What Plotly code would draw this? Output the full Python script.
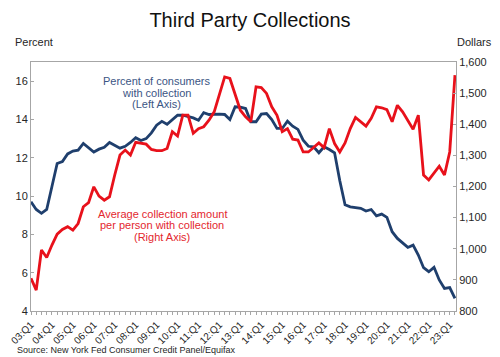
import plotly.graph_objects as go

years = list(range(3, 24))
quarters = [f"{y:02d}:Q{q}" for y in years for q in range(1, 5)][:82]
tick_labels = [q if q.endswith("Q1") else "" for q in quarters]

pct_consumers = [
    9.7, 9.3, 9.1, 9.3, 10.5, 11.7, 11.8, 12.2, 12.35, 12.4,
    12.75, 12.5, 12.3, 12.45, 12.55, 12.8, 12.65, 12.5, 12.6, 12.8,
    13.05, 12.9, 13.0, 13.3, 13.7, 13.9, 13.75, 14.0, 14.22, 14.22,
    14.17, 14.08, 13.96, 14.36, 14.26, 14.28, 14.28, 14.26, 14.0, 14.66,
    14.64, 14.57, 13.88, 13.88, 14.28, 14.31, 14.0, 13.53, 13.53, 13.91,
    13.65, 13.48, 12.92, 12.6, 12.57, 12.26, 12.57, 12.43, 12.26, 10.8,
    9.55, 9.44, 9.39, 9.36, 9.22, 9.3, 8.97, 9.06, 8.89, 8.14,
    7.79, 7.56, 7.32, 7.44, 6.92, 6.26, 6.05, 6.28, 5.62, 5.18,
    5.22, 4.66,
]

avg_amount = [
    905, 867, 996, 972, 1012, 1047, 1062, 1071, 1060, 1081,
    1135, 1148, 1199, 1169, 1156, 1167, 1237, 1301, 1317, 1301,
    1342, 1340, 1336, 1319, 1315, 1315, 1322, 1376, 1362, 1429,
    1429, 1371, 1386, 1392, 1413, 1440, 1499, 1552, 1547, 1499,
    1445, 1424, 1408, 1520, 1518, 1499, 1456, 1429, 1376, 1386,
    1352, 1349, 1311, 1311, 1325, 1340, 1325, 1386, 1338, 1311,
    1340, 1386, 1422, 1408, 1394, 1419, 1456, 1453, 1447, 1408,
    1461, 1440, 1413, 1384, 1429, 1237, 1221, 1242, 1265, 1237,
    1311, 1558,
]

left_ticks = [4, 6, 8, 10, 12, 14, 16]
right_ticks = [800, 900, 1000, 1100, 1200, 1300, 1400, 1500, 1600]
right_tick_text = [f"{v:,}" for v in right_ticks]

BLUE = "#1f3f6d"
RED = "#e8111b"
GRAY = "#a6a6a6"
TXT = "#262626"

fig = go.Figure()
fig.add_trace(go.Scatter(x=quarters, y=pct_consumers, mode="lines",
                         line=dict(color=BLUE, width=2.8), yaxis="y",
                         showlegend=False))
fig.add_trace(go.Scatter(x=quarters, y=avg_amount, mode="lines",
                         line=dict(color=RED, width=2.8), yaxis="y2",
                         showlegend=False))

font_family = "Liberation Sans, Arial, sans-serif"

fig.update_layout(
    width=500, height=357,
    margin=dict(l=31, r=44, t=62, b=46, autoexpand=False),
    paper_bgcolor="white", plot_bgcolor="white",
    font=dict(family=font_family, color=TXT, size=11),
    title=dict(text="Third Party Collections", x=0.5, xanchor="center",
               y=0.945, yanchor="middle",
               font=dict(size=20, color="#111111", family=font_family)),
    xaxis=dict(type="category", categoryorder="array", categoryarray=quarters,
               range=[0, 81.2], tickmode="array", tickvals=quarters,
               ticktext=tick_labels, tickangle=-45, ticks="outside",
               ticklen=3, tickcolor=GRAY, tickfont=dict(size=10, color=TXT),
               showline=True, linecolor=GRAY, linewidth=1, mirror=True,
               showgrid=False, zeroline=False, automargin=False),
    yaxis=dict(range=[4, 17], tickvals=left_ticks, ticks="inside", ticklen=3,
               tickcolor=GRAY, showline=True, linecolor=GRAY, linewidth=1,
               showgrid=False, zeroline=False, automargin=False,
               tickfont=dict(size=11, color=TXT)),
    yaxis2=dict(range=[800, 1600], overlaying="y", side="right",
                tickvals=right_ticks, ticktext=right_tick_text,
                ticks="inside", ticklen=3, tickcolor=GRAY, showline=True,
                linecolor=GRAY, linewidth=1, showgrid=False, zeroline=False,
                automargin=False, tickfont=dict(size=11, color=TXT)),
)

def px_x(px):
    return (px - 31) / 425.0

def px_y(py):
    return (311 - py) / 249.0

annotations = [
    dict(text="Percent", x=px_x(13), y=px_y(42), xanchor="left", yanchor="middle",
         font=dict(size=11, color=TXT)),
    dict(text="Dollars", x=px_x(455), y=px_y(42), xanchor="left", yanchor="middle",
         font=dict(size=11, color=TXT)),
    dict(text="Source: New York Fed Consumer Credit Panel/Equifax", x=px_x(15),
         y=px_y(350), xanchor="left", yanchor="middle",
         font=dict(size=9, color=TXT)),
]
blue_lines = ["Percent of consumers", "with collection", "(Left Axis)"]
for i, t in enumerate(blue_lines):
    annotations.append(dict(text=t, x=px_x(156), y=px_y(81 + 11.7 * i),
                            xanchor="center", yanchor="middle",
                            font=dict(size=11, color="#3b5584")))
red_lines = ["Average collection amount", "per person with collection", "(Right Axis)"]
for i, t in enumerate(red_lines):
    annotations.append(dict(text=t, x=px_x(162), y=px_y(213.5 + 11.7 * i),
                            xanchor="center", yanchor="middle",
                            font=dict(size=11, color="#e3262e")))
for a in annotations:
    a.update(xref="paper", yref="paper", showarrow=False)
fig.update_layout(annotations=annotations)

fig.write_html("out.html",
               config={"displayModeBar": False},
               post_script="document.body.style.margin='0';document.body.style.overflow='hidden';")
